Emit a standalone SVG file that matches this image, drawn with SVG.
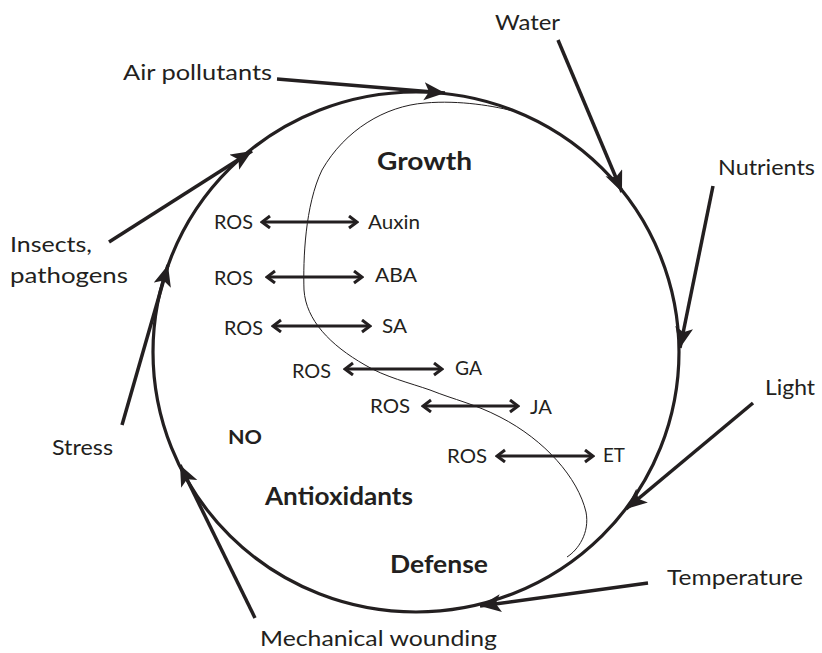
<svg xmlns="http://www.w3.org/2000/svg" width="822" height="653" viewBox="0 0 822 653">
<style>
text{font-family:Lato,"Open Sans","Liberation Sans",sans-serif;fill:#231f20}
.lab{font-size:22px}
.ros{font-size:20px}
.big{font-size:25px;font-weight:bold}
.no{font-size:18px;font-weight:bold}
.cyc{fill:none;stroke:#231f20;stroke-width:3.2}
.ext{fill:none;stroke:#231f20;stroke-width:3.5;marker-end:url(#ah)}
.dbl{fill:none;stroke:#231f20;stroke-width:3;marker-start:url(#ch);marker-end:url(#ch)}
.thin{fill:none;stroke:#231f20;stroke-width:1}
</style>
<defs>
<marker id="ah" markerUnits="userSpaceOnUse" markerWidth="24" markerHeight="20" refX="21" refY="9" orient="auto">
<path d="M0,0 L21,9 L0,18 L5,9 z" fill="#231f20"/>
</marker>
<marker id="ch" markerUnits="userSpaceOnUse" markerWidth="12" markerHeight="16" refX="10" refY="7" orient="auto-start-reverse">
<path d="M2,1 L10,7 L2,13" fill="none" stroke="#231f20" stroke-width="3"/>
</marker>
</defs>
<g id="cycle">
<ellipse class="cyc" cx="416" cy="352" rx="263" ry="260"/>
</g>
<g id="boundary">
<path class="thin" d="M517,112 C495,106 460,100 425,103 C385,106 345,130 322,170 C305,205 303,260 304,290 C306,320 330,345 365,365 C385,377 410,383 430,390 C455,400 475,404 500,417 C545,440 578,478 586,512 C590,533 578,550 567,557"/>
</g>
<g id="connectors">
<line class="ext" x1="277" y1="79" x2="445" y2="93"/>
<line class="ext" x1="558" y1="40" x2="622" y2="192"/>
<line class="ext" x1="713" y1="186" x2="680" y2="348"/>
<line class="ext" x1="753" y1="403" x2="626" y2="509"/>
<line class="ext" x1="648" y1="583" x2="480" y2="606"/>
<line class="ext" x1="255" y1="618" x2="180" y2="465"/>
<line class="ext" x1="122" y1="425" x2="168" y2="265"/>
<line class="ext" x1="109" y1="242" x2="252" y2="151"/>
<line class="dbl" x1="262" y1="222" x2="357" y2="222"/>
<line class="dbl" x1="267" y1="277" x2="362" y2="277"/>
<line class="dbl" x1="273" y1="326" x2="370" y2="326"/>
<line class="dbl" x1="345" y1="369" x2="442" y2="369"/>
<line class="dbl" x1="423" y1="406" x2="518" y2="406"/>
<line class="dbl" x1="497" y1="456" x2="593" y2="456"/>
</g>
<g id="n-air"><text class="lab" x="123" y="80" textLength="149" lengthAdjust="spacingAndGlyphs">Air pollutants</text></g>
<g id="n-water"><text class="lab" x="495" y="30" textLength="65" lengthAdjust="spacingAndGlyphs">Water</text></g>
<g id="n-nutrients"><text class="lab" x="718" y="175" textLength="97" lengthAdjust="spacingAndGlyphs">Nutrients</text></g>
<g id="n-light"><text class="lab" x="765" y="395" textLength="50" lengthAdjust="spacingAndGlyphs">Light</text></g>
<g id="n-temperature"><text class="lab" x="667" y="585" textLength="136" lengthAdjust="spacingAndGlyphs">Temperature</text></g>
<g id="n-mechanical"><text class="lab" x="260" y="646" textLength="237" lengthAdjust="spacingAndGlyphs">Mechanical wounding</text></g>
<g id="n-stress"><text class="lab" x="52" y="455" textLength="61" lengthAdjust="spacingAndGlyphs">Stress</text></g>
<g id="n-insects"><text class="lab" x="10" y="252" textLength="82" lengthAdjust="spacingAndGlyphs">Insects,</text><text class="lab" x="10" y="283" textLength="118" lengthAdjust="spacingAndGlyphs">pathogens</text></g>
<g id="n-growth"><text class="big" x="377" y="170" textLength="95" lengthAdjust="spacingAndGlyphs">Growth</text></g>
<g id="n-no"><text class="no" x="228" y="444" textLength="34" lengthAdjust="spacingAndGlyphs">NO</text></g>
<g id="n-antioxidants"><text class="big" x="265" y="505" textLength="148" lengthAdjust="spacingAndGlyphs">Antioxidants</text></g>
<g id="n-defense"><text class="big" x="390" y="573" textLength="98" lengthAdjust="spacingAndGlyphs">Defense</text></g>
<g id="n-ros1"><text class="ros" x="214" y="229" textLength="39" lengthAdjust="spacingAndGlyphs">ROS</text><text class="ros" x="368" y="229" textLength="52" lengthAdjust="spacingAndGlyphs">Auxin</text></g>
<g id="n-ros2"><text class="ros" x="214" y="285" textLength="39" lengthAdjust="spacingAndGlyphs">ROS</text><text class="ros" x="375" y="282" textLength="42" lengthAdjust="spacingAndGlyphs">ABA</text></g>
<g id="n-ros3"><text class="ros" x="224" y="335" textLength="39" lengthAdjust="spacingAndGlyphs">ROS</text><text class="ros" x="382" y="333" textLength="25" lengthAdjust="spacingAndGlyphs">SA</text></g>
<g id="n-ros4"><text class="ros" x="292" y="378" textLength="39" lengthAdjust="spacingAndGlyphs">ROS</text><text class="ros" x="455" y="375" textLength="27" lengthAdjust="spacingAndGlyphs">GA</text></g>
<g id="n-ros5"><text class="ros" x="370" y="413" textLength="40" lengthAdjust="spacingAndGlyphs">ROS</text><text class="ros" x="530" y="414" textLength="22" lengthAdjust="spacingAndGlyphs">JA</text></g>
<g id="n-ros6"><text class="ros" x="447" y="463" textLength="40" lengthAdjust="spacingAndGlyphs">ROS</text><text class="ros" x="603" y="462" textLength="22" lengthAdjust="spacingAndGlyphs">ET</text></g>
</svg>
